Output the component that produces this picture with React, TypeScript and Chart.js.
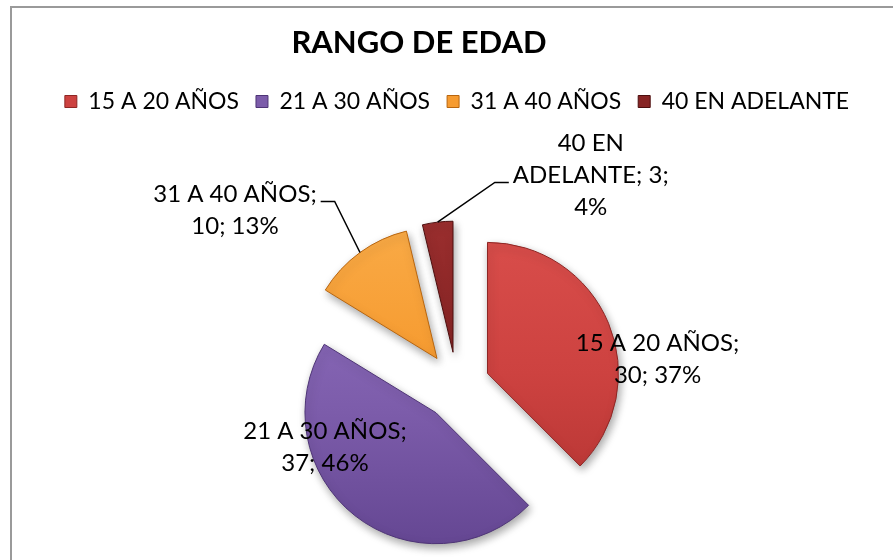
import React, { useEffect, useRef } from 'react';
import { Chart, registerables } from 'chart.js';

Chart.register(...registerables);

// ---- data ----
const TITLE = 'RANGO DE EDAD';
const categories = ['15 A 20 AÑOS', '21 A 30 AÑOS', '31 A 40 AÑOS', '40 EN ADELANTE'];
const counts = [30, 37, 10, 3];
const percents = [37, 46, 13, 4];

// ---- styles ----
const baseColors = ['#CD4240', '#7C5CAA', '#F69B30', '#872424'];
const lightColors = ['#D84D4A', '#8C6CBC', '#F9AA46', '#9A2E2E'];
const darkColors = ['#B53533', '#654793', '#E8871C', '#6A1717'];
const edgeColors = ['#8E2624', '#4E3476', '#B8650E', '#4C0E0E'];

const explode = [33, 34, 34, 34];
const labelAnchor = [
  [1.531, -0.211],
  [-1.008, 0.462],
  [-1.695, -1.344],
  [1.021, -1.611],
];
const leaderLine = [-1, -1, 0, 1];

const PIE_RADIUS = 131;
const FONT = 'Lato, "Open Sans", sans-serif';
const LABEL_SIZE = 24;
const LINE_H = 32;
const CAP = 17;
const WRAP_W = 175;
const TITLE_X = 407;
const TITLE_Y = 45;

function wrap(ctx: CanvasRenderingContext2D, text: string, maxW: number): string[] {
  const words = text.split(' ');
  const lines: string[] = [];
  let cur = '';
  for (const w of words) {
    const test = cur ? cur + ' ' + w : w;
    if (cur && ctx.measureText(test).width > maxW) {
      lines.push(cur);
      cur = w;
    } else {
      cur = test;
    }
  }
  if (cur) lines.push(cur);
  return lines;
}

const explodePlugin = {
  id: 'explodeSlices',
  beforeDatasetsDraw(chart: any) {
    const meta = chart.getDatasetMeta(0);
    meta.data.forEach((el: any, i: number) => {
      if (el.__exploded) return;
      const orig = el.draw;
      el.draw = function (ctx: CanvasRenderingContext2D, area: any) {
        const mid = (this.startAngle + this.endAngle) / 2;
        const d = explode[i] || 0;
        ctx.save();
        ctx.translate(Math.cos(mid) * d, Math.sin(mid) * d);
        ctx.shadowColor = 'rgba(0,0,0,0.35)';
        ctx.shadowBlur = 8;
        ctx.shadowOffsetX = 2;
        ctx.shadowOffsetY = 4;
        orig.call(this, ctx, area);
        ctx.restore();
      };
      el.__exploded = true;
    });
  },
};

const labelPlugin = {
  id: 'sliceLabels',
  afterDatasetsDraw(chart: any) {
    const ctx: CanvasRenderingContext2D = chart.ctx;
    const meta = chart.getDatasetMeta(0);
    ctx.save();
    ctx.font = `${LABEL_SIZE}px ${FONT}`;
    ctx.fillStyle = '#000';
    ctx.strokeStyle = '#000';
    ctx.lineWidth = 1.5;
    ctx.textAlign = 'center';
    ctx.textBaseline = 'alphabetic';
    meta.data.forEach((el: any, i: number) => {
      const { x, y, startAngle, endAngle, outerRadius } = el.getProps(
        ['x', 'y', 'startAngle', 'endAngle', 'outerRadius'],
        true
      );
      const text = `${categories[i]}; ${counts[i]}; ${percents[i]}%`;
      const lines = wrap(ctx, text, WRAP_W);
      const cx = x + labelAnchor[i][0] * outerRadius;
      const cy = y + labelAnchor[i][1] * outerRadius;
      const n = lines.length;
      lines.forEach((ln, k) => {
        const m = cy + (k - (n - 1) / 2) * LINE_H;
        ctx.fillText(ln, cx, m + CAP / 2);
      });
      const k = leaderLine[i];
      if (k >= 0) {
        const ly = cy + (k - (n - 1) / 2) * LINE_H + 7.5;
        const mid = (startAngle + endAngle) / 2;
        const d = explode[i] || 0;
        const px = x + Math.cos(mid) * (d + outerRadius);
        const py = y + Math.sin(mid) * (d + outerRadius);
        const w = ctx.measureText(lines[k]).width;
        const side = px > cx ? 1 : -1;
        const sx = cx + side * (w / 2 + 4);
        const hx = sx + side * 14;
        ctx.beginPath();
        ctx.moveTo(sx, ly);
        ctx.lineTo(hx, ly);
        ctx.lineTo(px, py);
        ctx.stroke();
      }
    });
    ctx.restore();
  },
};

const titlePlugin = {
  id: 'customTitle',
  afterDraw(chart: any) {
    const ctx: CanvasRenderingContext2D = chart.ctx;
    ctx.save();
    ctx.font = `bold 31px ${FONT}`;
    ctx.fillStyle = '#000';
    ctx.textAlign = 'center';
    ctx.textBaseline = 'alphabetic';
    ctx.fillText(TITLE, TITLE_X, TITLE_Y);
    ctx.restore();
  },
};

export default function App() {
  const ref = useRef<HTMLCanvasElement | null>(null);

  useEffect(() => {
    if (!ref.current) return;
    const chart = new Chart(ref.current, {
      type: 'pie',
      data: {
        labels: categories,
        datasets: [
          {
            data: counts,
            backgroundColor: (c: any) => {
              const ch = c.chart;
              const area = ch.chartArea;
              const i = c.dataIndex ?? 0;
              if (!area) return baseColors[i];
              const cy = (area.top + area.bottom) / 2;
              const g = ch.ctx.createLinearGradient(0, cy - PIE_RADIUS, 0, cy + PIE_RADIUS);
              g.addColorStop(0, lightColors[i]);
              g.addColorStop(0.5, baseColors[i]);
              g.addColorStop(1, darkColors[i]);
              return g;
            },
            borderColor: edgeColors,
            borderWidth: 1,
            offset: 0,
            hoverOffset: 0,
          } as any,
        ],
      },
      options: {
        responsive: true,
        maintainAspectRatio: false,
        animation: false,
        events: [],
        radius: PIE_RADIUS,
        layout: { padding: { top: 65, left: 0, right: 0, bottom: 0 } },
        plugins: {
          title: { display: false },
          tooltip: { enabled: false },
          legend: {
            display: true,
            position: 'top',
            labels: {
              font: { family: FONT, size: 23 },
              color: '#000',
              boxWidth: 12,
              boxHeight: 12,
              padding: 17,
              generateLabels: () =>
                categories.map((c, i) => ({
                  text: c,
                  fillStyle: baseColors[i],
                  strokeStyle: edgeColors[i],
                  lineWidth: 1,
                  hidden: false,
                  index: i,
                  fontColor: '#000',
                })),
            },
          },
        },
      } as any,
      plugins: [explodePlugin, labelPlugin, titlePlugin],
    });
    return () => chart.destroy();
  }, []);

  return (
    <div
      style={{
        position: 'absolute',
        left: 0,
        top: 0,
        width: 893,
        height: 560,
        overflow: 'hidden',
        background: '#fff',
      }}
    >
      <div
        style={{
          position: 'absolute',
          left: 10,
          top: 6,
          width: 890,
          height: 641,
          border: '2px solid #9a9a9a',
          background: '#fff',
        }}
      >
        <canvas ref={ref} style={{ display: 'block' }} />
      </div>
    </div>
  );
}
